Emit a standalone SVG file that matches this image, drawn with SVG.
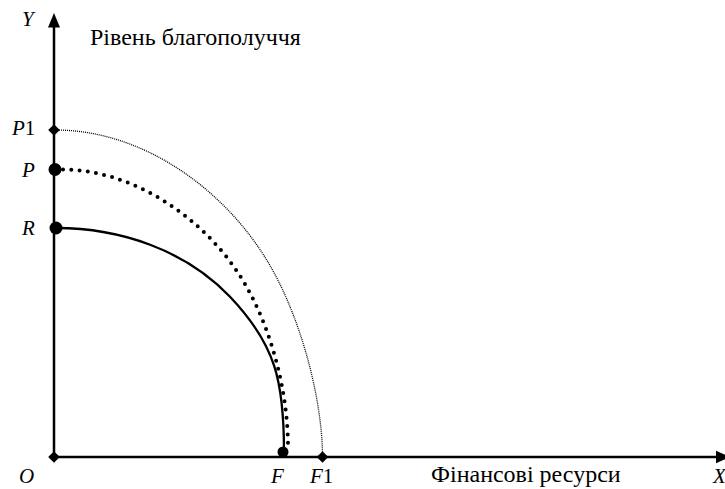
<svg xmlns="http://www.w3.org/2000/svg" width="725" height="489" viewBox="0 0 725 489">
<style>
  .axis{stroke:#000;stroke-width:2.5;fill:none}
  .solid{stroke:#000;stroke-width:2.3;fill:none}
  .dots{stroke:#000;stroke-width:4;stroke-linecap:round;stroke-dasharray:0 8.3;fill:none}
  .fine{stroke:#000;stroke-width:1.3;stroke-dasharray:1 1;fill:none}
  .pt{fill:#000}
</style>
<defs>
  <path id="dia" d="M0,-5.8 L5.8,0 L0,5.8 L-5.8,0 Z"/>
</defs>
<rect width="725" height="489" fill="#fff"/>
<g id="connectors">
  <line class="axis" x1="54" y1="26" x2="54" y2="457"/>
  <polygon class="pt" points="54,13 48,27.5 60,27.5"/>
  <line class="axis" x1="54" y1="457" x2="717" y2="457"/>
  <polygon class="pt" points="716,450.7 730,457 716,463.3"/>
  <path class="fine" d="M55,130 C145,130 224.7,191 266.7,260 C301,316 322.5,400 322.5,457"/>
  <path class="dots" d="M63,169.5 C130,169.5 205,215.5 245,284 C274,334 288,397 288,447"/>
  <path class="solid" d="M56,228 C120,228 185,249.7 230,296.7 C276,345 284,382 284,452"/>
</g>
<g id="axis-y">
  <text font-family="Liberation Serif" font-style="italic" font-size="21" x="22" y="26">Y</text>
  <text font-family="Liberation Serif" font-size="24" x="90" y="45">Рівень благополуччя</text>
</g>
<g id="axis-x">
  <text font-family="Liberation Serif" font-size="24" x="431" y="482">Фінансові ресурси</text>
  <text font-family="Liberation Serif" font-style="italic" font-size="21" x="713" y="483">X</text>
</g>
<g id="node-O">
  <use href="#dia" x="54" y="457"/>
  <text font-family="Liberation Serif" font-style="italic" font-size="21" x="19" y="483">O</text>
</g>
<g id="node-P1">
  <use href="#dia" x="54" y="130"/>
  <text font-family="Liberation Serif" font-size="21" x="12" y="135"><tspan font-style="italic">P</tspan>1</text>
</g>
<g id="node-P">
  <circle class="pt" cx="55" cy="169.5" r="6.5"/>
  <text font-family="Liberation Serif" font-style="italic" font-size="21" x="22" y="177">P</text>
</g>
<g id="node-R">
  <circle class="pt" cx="56" cy="228" r="6.5"/>
  <text font-family="Liberation Serif" font-style="italic" font-size="21" x="22" y="235">R</text>
</g>
<g id="node-F">
  <circle class="pt" cx="283" cy="452" r="5.5"/>
  <text font-family="Liberation Serif" font-style="italic" font-size="21" x="271" y="483">F</text>
</g>
<g id="node-F1">
  <use href="#dia" x="322.5" y="457"/>
  <text font-family="Liberation Serif" font-size="21" x="310" y="483"><tspan font-style="italic">F</tspan>1</text>
</g>
</svg>
